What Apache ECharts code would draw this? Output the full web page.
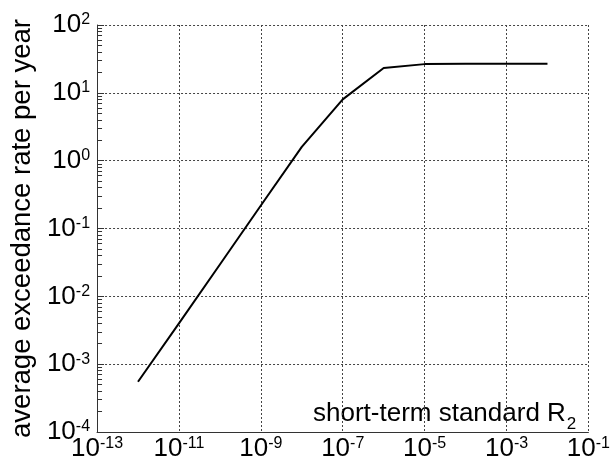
<!DOCTYPE html>
<html>
<head>
<meta charset="utf-8">
<script src="https://cdn.jsdelivr.net/npm/echarts@6/dist/echarts.min.js"></script>
<style>
html,body{margin:0;padding:0;background:#fff;}
#chart{width:613px;height:463px;}
</style>
</head>
<body>
<div id="chart"></div>
<script>
// Data
var xValues = [1e-12, 1e-11, 1e-10, 1e-9, 1e-8, 1e-7, 1e-6, 1e-5, 1e-4, 1e-3, 1e-2];
var yValues = [5.5e-4, 4.0e-3, 2.95e-2, 0.218, 1.6, 8.0, 23.2, 26.5, 26.8, 26.9, 26.9];
var xTickExponents = [-13, -11, -9, -7, -5, -3, -1];
var yTickExponents = [-4, -3, -2, -1, 0, 1, 2];
var xAxisTitle = 'short-term standard R';
var xAxisTitleSub = '2';
var yAxisTitle = 'average exceedance rate per year';

var FONT = '"Liberation Sans", Arial, Helvetica, sans-serif';

var seriesData = xValues.map(function (x, i) {
  return [Math.log10(x), Math.log10(yValues[i])];
});

// minor log ticks (2..9 in each decade) for the y axis
var yMinor = [];
for (var d = yTickExponents[0]; d < yTickExponents[yTickExponents.length - 1]; d++) {
  for (var k = 2; k <= 9; k++) yMinor.push(d + Math.log10(k));
}

var richPow = {
  b: { fontSize: 26, lineHeight: 26, fontFamily: FONT, color: '#000' },
  e: { fontSize: 16, lineHeight: 16, fontFamily: FONT, color: '#000', verticalAlign: 'top' }
};
function powLabel(v) {
  return '{b|10}{e|' + Math.round(v) + '}';
}

var gridLine = { show: true, lineStyle: { color: '#444', width: 1, type: [2, 2] } };

var chart = echarts.init(document.getElementById('chart'), null, { renderer: 'canvas' });
chart.setOption({
  animation: false,
  backgroundColor: '#fff',
  grid: { left: 94, right: 22, top: 25, bottom: 31, containLabel: false },
  xAxis: {
    type: 'value',
    min: -13, max: -1,
    axisLine: { show: true, onZero: false, lineStyle: { color: '#333', width: 1 } },
    axisTick: { show: false, customValues: xTickExponents },
    axisLabel: {
      show: true, customValues: xTickExponents, margin: 4,
      formatter: powLabel, rich: richPow
    },
    splitLine: gridLine
  },
  yAxis: [{
    type: 'value',
    min: -4, max: 2, interval: 1,
    axisLine: { show: true, onZero: false, lineStyle: { color: '#333', width: 1 } },
    axisTick: { show: true, inside: true, length: 7, lineStyle: { color: '#333' } },
    axisLabel: { show: true, margin: 7, formatter: powLabel, rich: richPow },
    splitLine: gridLine,
    name: yAxisTitle,
    nameLocation: 'middle',
    nameRotate: 90,
    nameGap: 58,
    nameTextStyle: { fontSize: 27.5, fontFamily: FONT, color: '#000' }
  }, {
    type: 'value',
    min: -4, max: 2,
    position: 'left',
    offset: 0,
    axisLine: { show: false },
    axisTick: { show: true, inside: true, length: 5, customValues: yMinor, lineStyle: { color: '#333' } },
    axisLabel: { show: false },
    splitLine: { show: false }
  }],
  graphic: [{
    type: 'text',
    left: 313,
    top: 401,
    style: {
      text: '{n|' + xAxisTitle + '}{s|' + xAxisTitleSub + '}',
      rich: {
        n: { fontSize: 26, lineHeight: 28, fontFamily: FONT, fill: '#000', verticalAlign: 'bottom' },
        s: { fontSize: 17, lineHeight: 17, fontFamily: FONT, fill: '#000', verticalAlign: 'bottom', padding: [0, 0, -6, 1] }
      }
    }
  }],
  series: [{
    type: 'line',
    xAxisIndex: 0,
    yAxisIndex: 0,
    data: seriesData,
    showSymbol: false,
    symbol: 'none',
    lineStyle: { color: '#000', width: 2 }
  }]
});
</script>
</body>
</html>
